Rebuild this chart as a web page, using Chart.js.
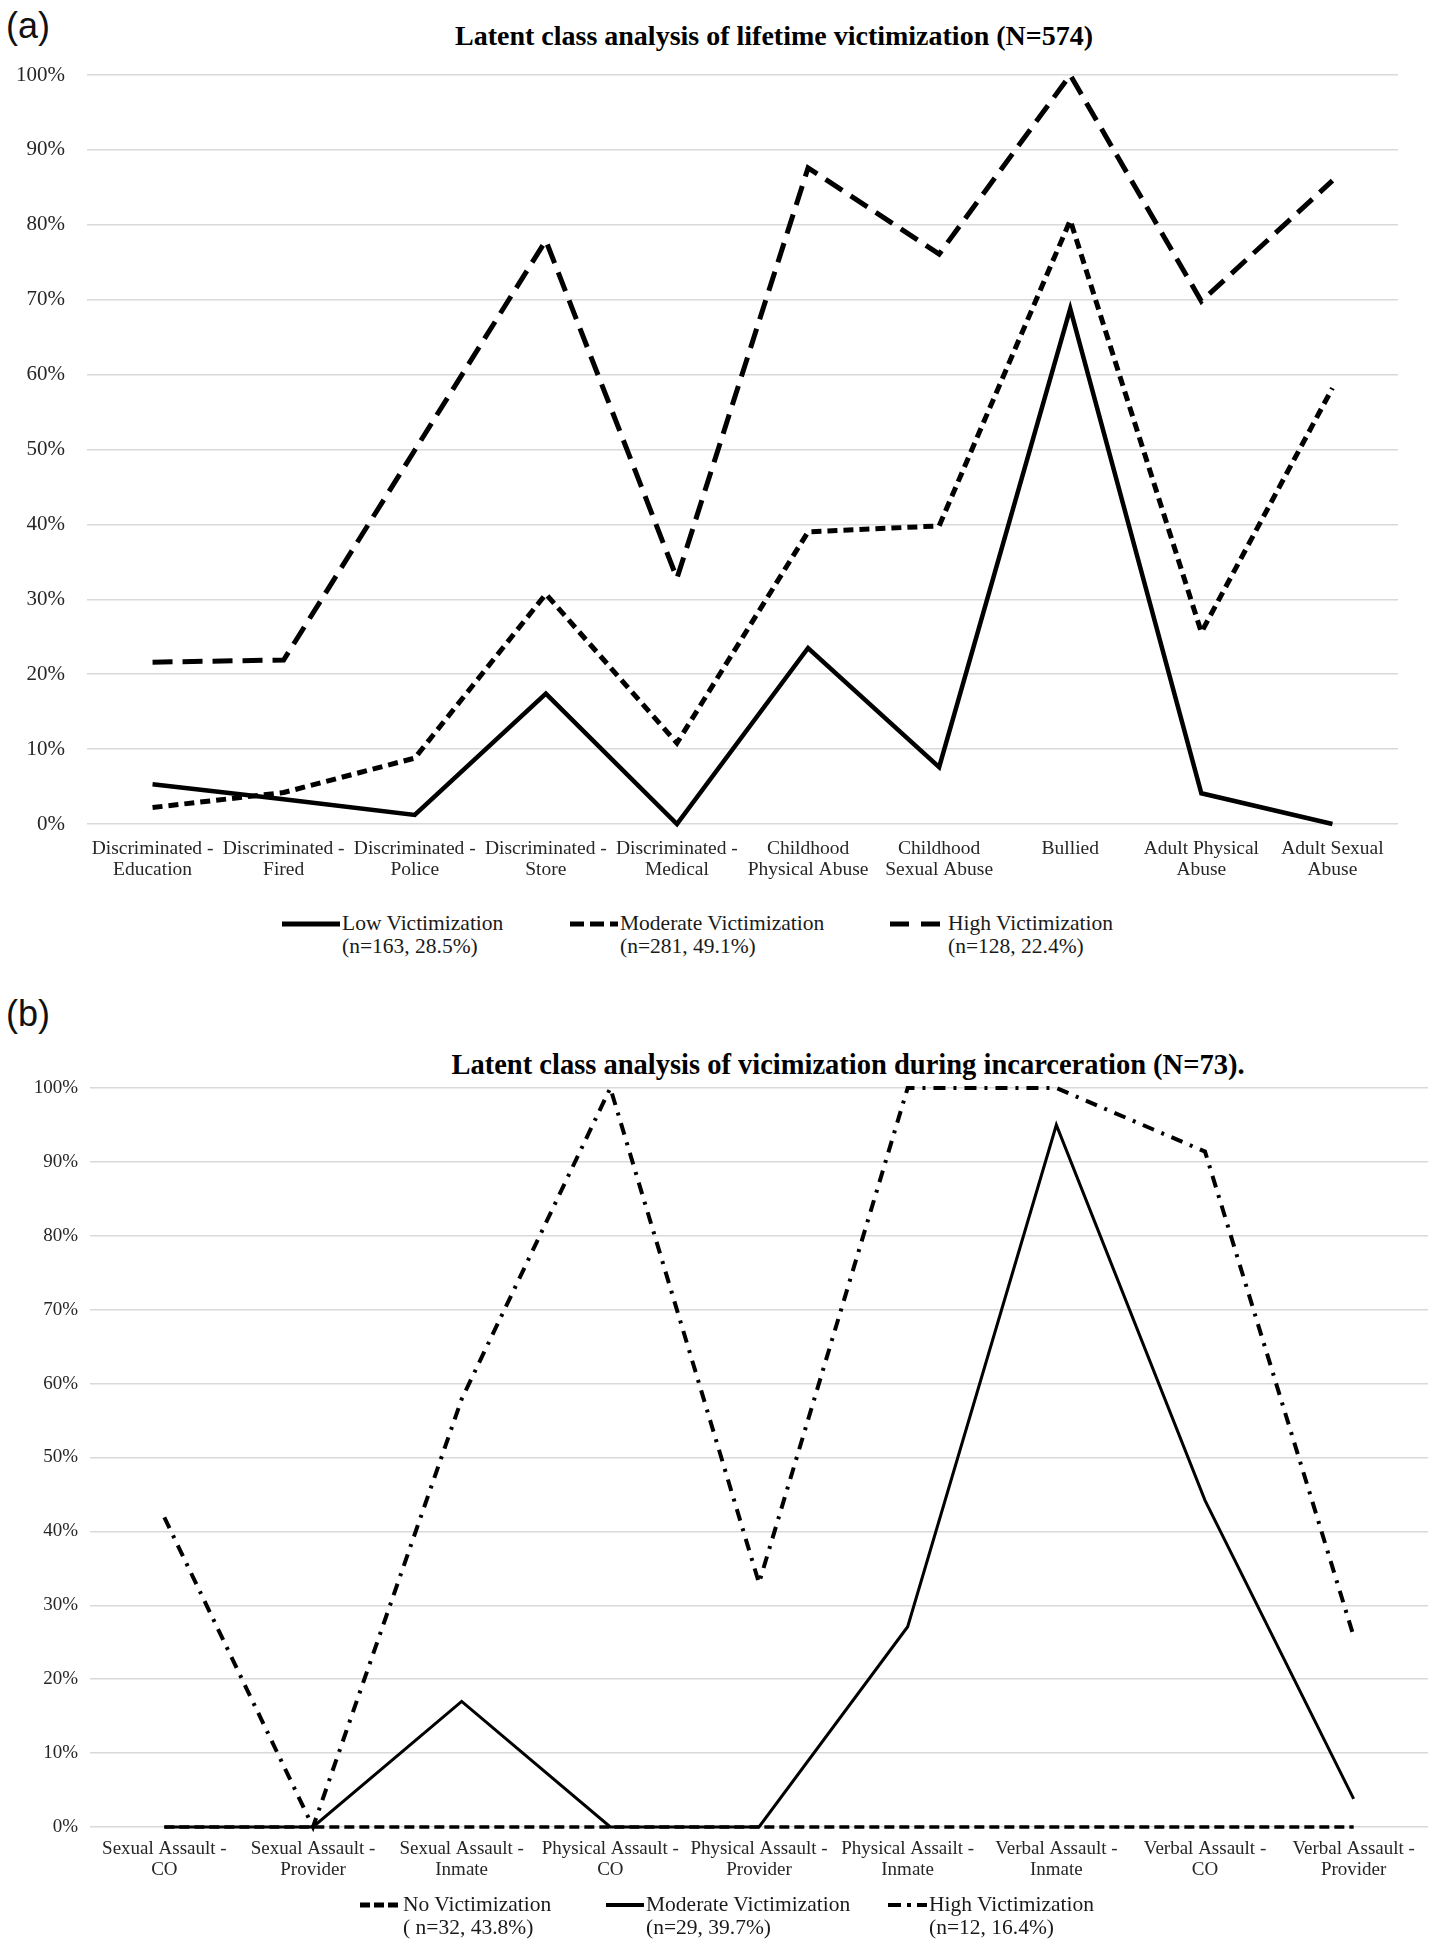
<!DOCTYPE html>
<html>
<head>
<meta charset="utf-8">
<script src="https://cdn.jsdelivr.net/npm/chart.js@4.4.1/dist/chart.umd.min.js"></script>
<style>
  body { margin: 0; background: #fff; font-family: 'Liberation Serif', 'Times New Roman', serif; }
  #page { position: relative; width: 1436px; height: 1950px; overflow: hidden; background: #fff; }
  .panel-tag { position: absolute; left: 6px; font-family: 'Liberation Sans', Arial, sans-serif; font-size: 36px; color: #111; line-height: 1; }
  .chart-title { position: absolute; transform: translate(-50%, -50%); white-space: nowrap; font-weight: bold; font-size: 28px; color: #000; }
  .box { position: absolute; left: 0; width: 1436px; height: 900px; }
  .legend-item { position: absolute; font-size: 21.5px; color: #1a1a1a; line-height: 23px; white-space: nowrap; }
  .legend-item svg { position: absolute; overflow: visible; }
</style>
</head>
<body>
<div id="page">
  <div class="panel-tag" style="top:8px">(a)</div>
  <div class="chart-title" style="left:774px; top:36px">Latent class analysis of lifetime victimization (N=574)</div>
  <div class="box" style="top:0"><canvas id="chartTop"></canvas></div>

  <div class="panel-tag" style="top:996px">(b)</div>
  <div class="chart-title" style="left:848px; top:1065px; font-size:28.5px">Latent class analysis of vicimization during incarceration (N=73).</div>
  <div class="box" style="top:1000px"><canvas id="chartBottom"></canvas></div>
</div>

<script>
// ---- panel (a): lifetime victimization ----
const topCategories = [
  ['Discriminated -', 'Education'],
  ['Discriminated -', 'Fired'],
  ['Discriminated -', 'Police'],
  ['Discriminated -', 'Store'],
  ['Discriminated -', 'Medical'],
  ['Childhood', 'Physical Abuse'],
  ['Childhood', 'Sexual Abuse'],
  ['Bullied'],
  ['Adult Physical', 'Abuse'],
  ['Adult Sexual', 'Abuse']
];
const topLow      = [5.3, 3.3, 1.2, 17.4, 0, 23.5, 7.6, 68.8, 4.1, 0];
const topModerate = [2.2, 4.2, 8.8, 30.7, 10.8, 39.0, 39.8, 80.6, 25.6, 58.2];
const topHigh     = [21.6, 21.9, 49.9, 77.9, 32.8, 87.6, 76.1, 100, 69.8, 85.9];
const topNames = ['Low Victimization', 'Moderate Victimization', 'High Victimization'];
const topCounts = ['(n=163, 28.5%)', '(n=281, 49.1%)', '(n=128, 22.4%)'];

// ---- panel (b): victimization during incarceration ----
const bottomCategories = [
  ['Sexual Assault -', 'CO'],
  ['Sexual Assault -', 'Provider'],
  ['Sexual Assault -', 'Inmate'],
  ['Physical Assault -', 'CO'],
  ['Physical Assault -', 'Provider'],
  ['Physical Assailt -', 'Inmate'],
  ['Verbal Assault -', 'Inmate'],
  ['Verbal Assault -', 'CO'],
  ['Verbal Assault -', 'Provider']
];
const bottomNone     = [0, 0, 0, 0, 0, 0, 0, 0, 0];
const bottomModerate = [0, 0, 17.0, 0, 0, 27.1, 95.0, 44.2, 3.8];
const bottomHigh     = [41.9, 0, 57.9, 100, 33.0, 100, 100, 91.4, 25.8];
const bottomNames = ['No Victimization', 'Moderate Victimization', 'High Victimization'];
const bottomCounts = ['( n=32, 43.8%)', '(n=29, 39.7%)', '(n=12, 16.4%)'];

const yTicks = [0, 10, 20, 30, 40, 50, 60, 70, 80, 90, 100];

function lineSet(label, data, width, dash, order) {
  return {
    label: label,
    data: data,
    borderColor: '#000',
    backgroundColor: '#000',
    borderWidth: width,
    borderDash: dash,
    borderCapStyle: 'butt',
    borderJoinStyle: 'miter',
    pointRadius: 0,
    tension: 0,
    fill: false,
    clip: false,
    order: order
  };
}

function makeChart(id, labels, datasets, cfg) {
  const ctx = document.getElementById(id).getContext('2d');
  return new Chart(ctx, {
    type: 'line',
    data: { labels: labels, datasets: datasets },
    options: {
      responsive: true,
      maintainAspectRatio: false,
      animation: false,
      layout: { padding: { top: cfg.top, right: cfg.right, left: 0, bottom: 0 } },
      plugins: { legend: { display: false }, title: { display: false }, tooltip: { enabled: false } },
      scales: {
        x: {
          offset: true,
          grid: { display: false, drawTicks: false },
          border: { display: false },
          ticks: {
            autoSkip: false,
            maxRotation: 0,
            padding: cfg.xPad,
            color: '#262626',
            font: { family: "'Liberation Serif', 'Times New Roman', serif", size: cfg.xFont, lineHeight: 1.1 }
          },
          afterFit: (scale) => { scale.height = cfg.xHeight; }
        },
        y: {
          min: 0,
          max: 100,
          afterBuildTicks: (scale) => { scale.ticks = yTicks.map(v => ({ value: v })); },
          grid: { color: '#d9d9d9', lineWidth: 1.5, drawTicks: false },
          border: { display: false },
          ticks: {
            padding: cfg.yPad,
            color: '#262626',
            font: { family: "'Liberation Serif', 'Times New Roman', serif", size: cfg.yFont },
            callback: (v) => v + '%'
          },
          afterFit: (scale) => { scale.width = cfg.yWidth; }
        }
      }
    }
  });
}

makeChart('chartTop', topCategories, [
  lineSet(topNames[0], topLow, 4.5, [], 0),
  lineSet(topNames[1], topModerate, 5, [10, 6], 1),
  lineSet(topNames[2], topHigh, 5, [20, 10], 2)
], { top: 75, right: 38, xHeight: 76, yWidth: 87, xPad: 14, yPad: 22, xFont: 19.5, yFont: 21 });

makeChart('chartBottom', bottomCategories, [
  lineSet(bottomNames[0], bottomNone, 3.5, [10, 5], 2),
  lineSet(bottomNames[1], bottomModerate, 3, [], 0),
  lineSet(bottomNames[2], bottomHigh, 4, [12, 8, 3, 8], 1)
], { top: 88, right: 8, xHeight: 73, yWidth: 90, xPad: 12, yPad: 12, xFont: 19, yFont: 19 });

// ---- legends (html) ----
function addLegend(names, counts, items, y) {
  const page = document.getElementById('page');
  names.forEach((name, i) => {
    const it = items[i];
    const div = document.createElement('div');
    div.className = 'legend-item';
    div.style.left = it.text + 'px';
    div.style.top = (y - 11.5) + 'px';
    div.innerHTML = name + '<br>' + counts[i];
    const w = it.text - it.sample;
    const svg = document.createElementNS('http://www.w3.org/2000/svg', 'svg');
    svg.setAttribute('width', w);
    svg.setAttribute('height', 10);
    svg.style.left = (-w) + 'px';
    svg.style.top = '7px';
    const ln = document.createElementNS('http://www.w3.org/2000/svg', 'line');
    ln.setAttribute('x1', 0); ln.setAttribute('y1', 5);
    ln.setAttribute('x2', w - 2); ln.setAttribute('y2', 5);
    ln.setAttribute('stroke', '#000');
    ln.setAttribute('stroke-width', it.width);
    if (it.dash) ln.setAttribute('stroke-dasharray', it.dash);
    svg.appendChild(ln);
    div.appendChild(svg);
    page.appendChild(div);
  });
}

addLegend(topNames, topCounts, [
  { sample: 282, text: 342, width: 5, dash: null },
  { sample: 570, text: 620, width: 5, dash: '14 6' },
  { sample: 890, text: 948, width: 5, dash: '19 12' }
], 923);

addLegend(bottomNames, bottomCounts, [
  { sample: 360, text: 403, width: 5, dash: '10 4' },
  { sample: 606, text: 646, width: 4, dash: null },
  { sample: 888, text: 929, width: 4, dash: '13 6 4 6' }
], 1904);
</script>
</body>
</html>
